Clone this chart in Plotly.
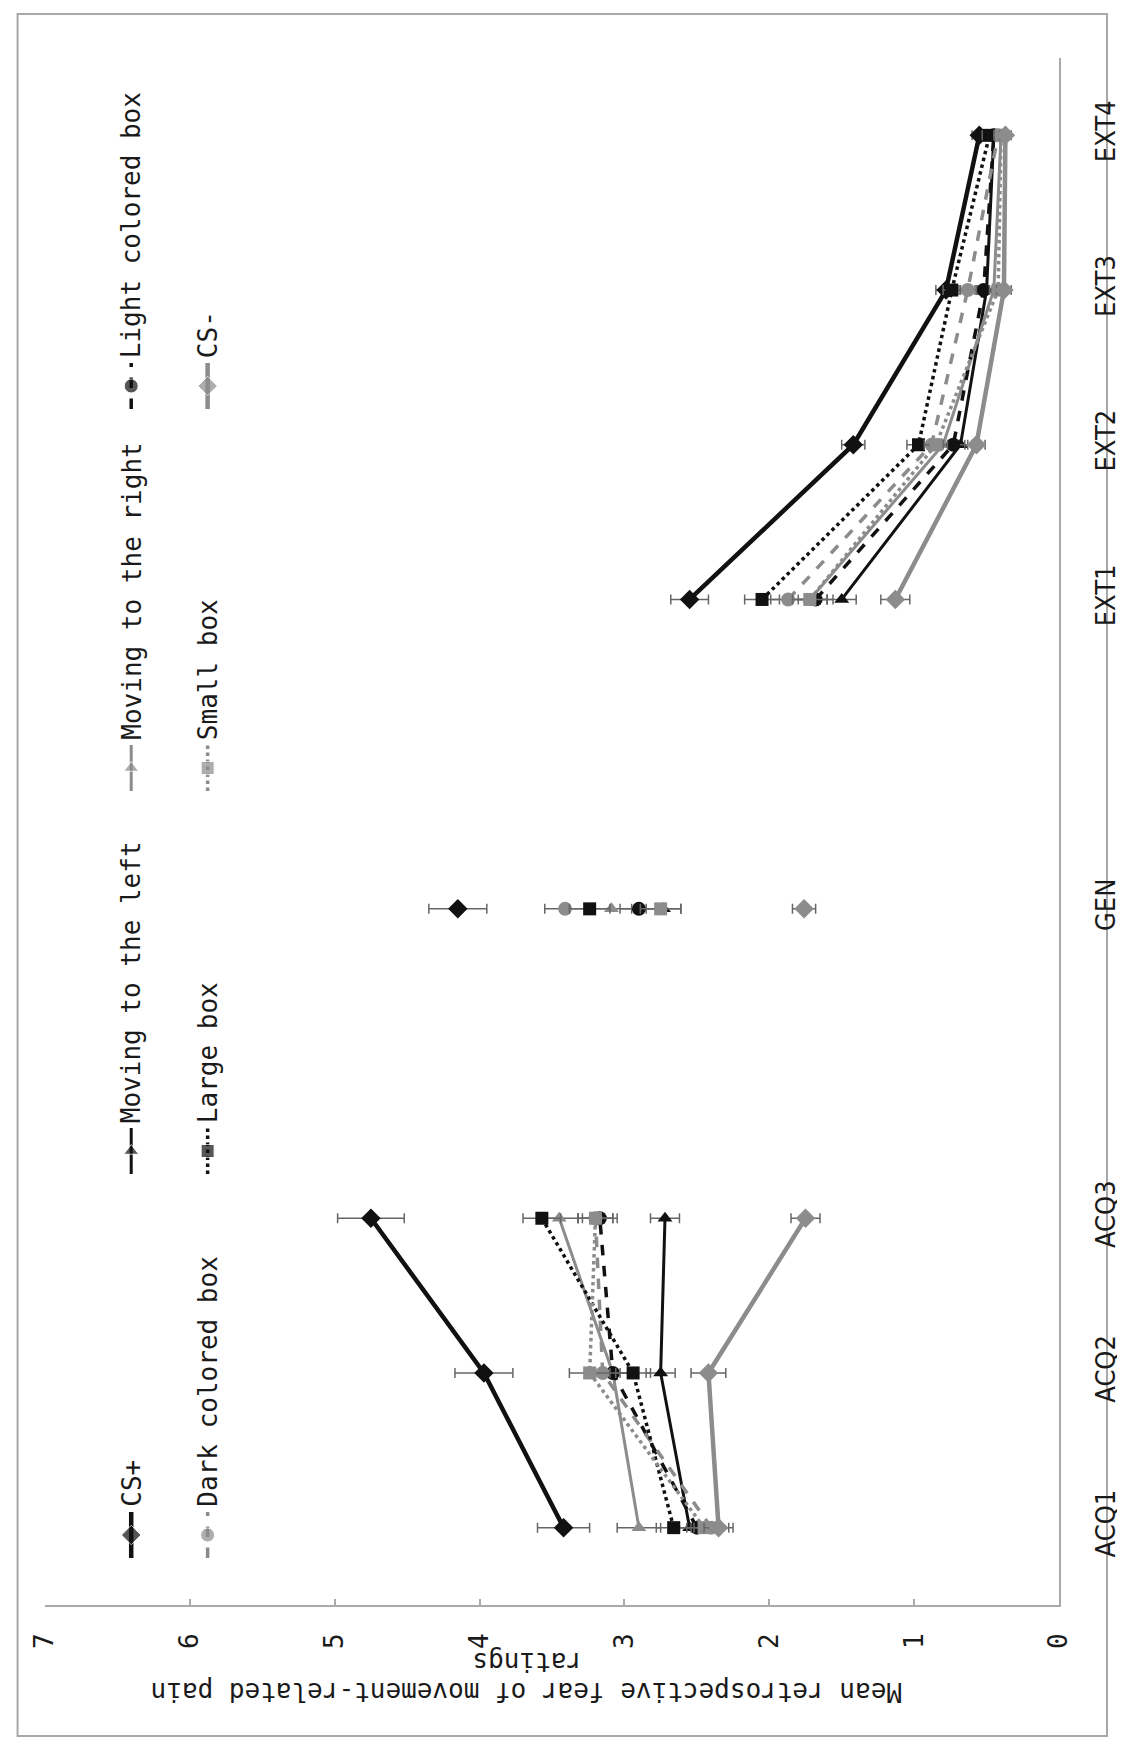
import plotly.graph_objects as go

# ---------------- data ----------------
categories = ["ACQ1", "ACQ2", "ACQ3", "", "GEN", "", "EXT1", "EXT2", "EXT3", "EXT4"]

series_names = ["CS+", "Moving to the left", "Moving to the right", "Light colored box",
                "Dark colored box", "Large box", "Small box", "CS-"]

cs_plus      = [3.42, 3.97, 4.75, None, 4.15, None, 2.55, 1.42, 0.78, 0.55]
move_left    = [2.55, 2.75, 2.72, None, 2.73, None, 1.50, 0.68, 0.50, 0.45]
move_right   = [2.90, 3.08, 3.45, None, 3.09, None, 1.72, 0.80, 0.45, 0.40]
light_box    = [2.50, 3.08, 3.17, None, 2.90, None, 1.68, 0.73, 0.52, 0.45]
dark_box     = [2.40, 3.15, 3.20, None, 3.41, None, 1.87, 0.88, 0.63, 0.42]
large_box    = [2.66, 2.94, 3.57, None, 3.24, None, 2.05, 0.97, 0.74, 0.48]
small_box    = [2.45, 3.24, 3.20, None, 2.75, None, 1.72, 0.85, 0.42, 0.40]
cs_minus     = [2.35, 2.42, 1.75, None, 1.76, None, 1.13, 0.57, 0.38, 0.37]

err_cs_plus    = [0.18, 0.20, 0.23, None, 0.20, None, 0.13, 0.08, 0.07, 0.05]
err_move_left  = [0.13, 0.10, 0.10, None, 0.12, None, 0.10, 0.08, 0.06, 0.05]
err_move_right = [0.15, 0.12, 0.13, None, 0.14, None, 0.12, 0.08, 0.06, 0.05]
err_light_box  = [0.12, 0.12, 0.12, None, 0.13, None, 0.12, 0.08, 0.06, 0.05]
err_dark_box   = [0.12, 0.12, 0.12, None, 0.14, None, 0.12, 0.08, 0.06, 0.05]
err_large_box  = [0.12, 0.12, 0.13, None, 0.14, None, 0.12, 0.08, 0.06, 0.05]
err_small_box  = [0.12, 0.14, 0.12, None, 0.14, None, 0.12, 0.08, 0.06, 0.05]
err_cs_minus   = [0.10, 0.12, 0.10, None, 0.08, None, 0.10, 0.06, 0.05, 0.04]

rating_ticks = [0, 1, 2, 3, 4, 5, 6, 7]
axis_title_1 = "Mean retrospective fear of movement-related pain"
axis_title_2 = "ratings"

# ---------------- styles ----------------
BLACK = "#111111"
GRAY = "#8c8c8c"
ERR = "#666666"
MONO = "DejaVu Sans Mono, monospace"
NARROW = "Liberation Sans Narrow, DejaVu Sans Condensed, Arial Narrow, sans-serif"

styles = [
    dict(color=BLACK, dash="solid", width=4.5, symbol="diamond",     size=15),
    dict(color=BLACK, dash="solid", width=3,   symbol="triangle-up", size=13),
    dict(color=GRAY,  dash="solid", width=3,   symbol="triangle-up", size=13),
    dict(color=BLACK, dash="dash",  width=3.5, symbol="circle",      size=14),
    dict(color=GRAY,  dash="dash",  width=3.5, symbol="circle",      size=14),
    dict(color=BLACK, dash="dot",   width=3.5, symbol="square",      size=13),
    dict(color=GRAY,  dash="dot",   width=3.5, symbol="square",      size=13),
    dict(color=GRAY,  dash="solid", width=4.5, symbol="diamond",     size=15),
]
values = [cs_plus, move_left, move_right, light_box, dark_box, large_box, small_box, cs_minus]
errors = [err_cs_plus, err_move_left, err_move_right, err_light_box,
          err_dark_box, err_large_box, err_small_box, err_cs_minus]

W, H = 1125, 1742
L, R, T, B = 37, 53, 50, 145
PW, PH = W - L - R, H - T - B

def px(x):
    return (x - L) / PW

def py(y):
    return (H - B - y) / PH

slot = list(range(len(categories)))

fig = go.Figure()

for name, vals, errs, st in zip(series_names, values, errors, styles):
    fig.add_trace(go.Scatter(
        x=vals, y=slot, name=name, mode="lines+markers",
        line=dict(color=st["color"], dash=st["dash"], width=st["width"]),
        marker=dict(symbol=st["symbol"], size=st["size"], color=st["color"]),
        error_x=dict(type="data", array=errs, color=ERR, thickness=1.5, width=5),
        connectgaps=False, showlegend=False, cliponaxis=False,
    ))

# ---------------- custom rotated legend (pixel-coordinate overlay axes) ----------------
legend_cols_x = [125, 203]
legend_sym_y = [1527, 1143, 760, 378]
entries = []
for i, (name, st) in enumerate(zip(series_names, styles)):
    col = i // 4
    row = i % 4
    entries.append((name, st, legend_cols_x[col], legend_sym_y[row]))

for name, st, lx, ly in entries:
    fig.add_trace(go.Scatter(
        x=[lx, lx, lx], y=[ly + 23, ly, ly - 23], xaxis="x2", yaxis="y2",
        mode="lines+markers",
        line=dict(color=st["color"], dash=st["dash"], width=st["width"]),
        marker=dict(symbol=st["symbol"], size=[0, st["size"], 0], color=st["color"]),
        showlegend=False, hoverinfo="skip", cliponaxis=False,
    ))
    fig.add_annotation(
        x=lx, y=ly - 26, xref="x2", yref="y2", text=name, textangle=-90,
        showarrow=False, xanchor="center", yanchor="bottom",
        font=dict(family=MONO, size=26, color="#1a1a1a"),
    )

# axis title (upside-down)
fig.add_annotation(x=px(529), y=py(1654), xref="paper", yref="paper", text=axis_title_2,
                   textangle=180, showarrow=False, xanchor="center", yanchor="middle",
                   font=dict(family=MONO, size=26, color="#1a1a1a"))
fig.add_annotation(x=px(529), y=py(1684), xref="paper", yref="paper", text=axis_title_1,
                   textangle=180, showarrow=False, xanchor="center", yanchor="middle",
                   font=dict(family=MONO, size=26, color="#1a1a1a"))

# chart-area border
fig.add_shape(type="rect", xref="paper", yref="paper",
              x0=px(9), x1=px(1121), y0=py(6), y1=py(1728),
              line=dict(color="#a8a8a8", width=2), fillcolor="rgba(0,0,0,0)", layer="below")

fig.update_layout(
    width=W, height=H,
    margin=dict(l=L, r=R, t=T, b=B, pad=0),
    paper_bgcolor="white", plot_bgcolor="white",
    showlegend=False,
    xaxis=dict(
        range=[7, 0], tickvals=rating_ticks, ticktext=[str(t) for t in rating_ticks],
        tickangle=-90, ticks="inside", ticklen=6, tickcolor="#aaaaaa", tickwidth=1.5,
        showline=True, linecolor="#aaaaaa", linewidth=2, showgrid=False, zeroline=False,
        tickfont=dict(family=MONO, size=26, color="#1a1a1a"), ticklabelstandoff=16,
    ),
    yaxis=dict(
        range=[-0.5, len(categories) - 0.5], side="right",
        tickvals=[i for i, c in enumerate(categories) if c],
        ticktext=[c for c in categories if c],
        tickangle=-90, ticks="", showline=True, linecolor="#aaaaaa", linewidth=2,
        showgrid=False, zeroline=False,
        tickfont=dict(family=NARROW, size=27, color="#1a1a1a"), ticklabelstandoff=22,
    ),
    xaxis2=dict(range=[L, W - R], overlaying="x", visible=False, fixedrange=True),
    yaxis2=dict(range=[H - B, T], overlaying="y", visible=False, fixedrange=True),
)

fig.write_html("out.html")
